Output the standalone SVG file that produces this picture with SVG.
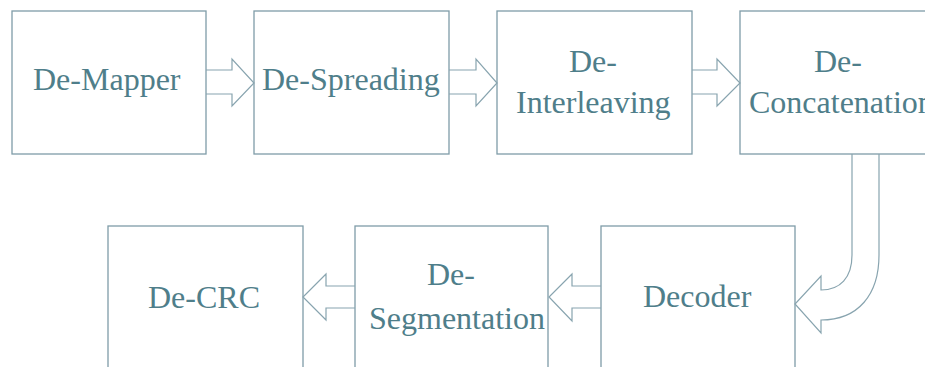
<svg xmlns="http://www.w3.org/2000/svg" width="925" height="367" viewBox="0 0 925 367">
  <rect width="925" height="367" fill="#ffffff"/>

  <!-- Processing stages: upper row -->
  <g id="de-mapper">
    <rect x="12" y="11" width="194" height="143" fill="#ffffff" stroke="#7f9ca8" stroke-width="1.3"/>
    <text x="33" y="90" font-size="32" style="font-family: 'Liberation Serif', serif" fill="#4f7e8a">De-Mapper</text>
  </g>
  <g id="de-spreading">
    <rect x="254" y="11" width="195" height="143" fill="#ffffff" stroke="#7f9ca8" stroke-width="1.3"/>
    <text x="262" y="90" font-size="32" style="font-family: 'Liberation Serif', serif" fill="#4f7e8a">De-Spreading</text>
  </g>
  <g id="de-interleaving">
    <rect x="497" y="11" width="195" height="143" fill="#ffffff" stroke="#7f9ca8" stroke-width="1.3"/>
    <text x="569" y="72" font-size="32" style="font-family: 'Liberation Serif', serif" fill="#4f7e8a">De-</text>
    <text x="516" y="113" font-size="32" style="font-family: 'Liberation Serif', serif" fill="#4f7e8a">Interleaving</text>
  </g>
  <g id="de-concatenation">
    <rect x="740" y="11" width="202" height="143" fill="#ffffff" stroke="#7f9ca8" stroke-width="1.3"/>
    <text x="814" y="72" font-size="32" style="font-family: 'Liberation Serif', serif" fill="#4f7e8a">De-</text>
    <text x="749" y="113" font-size="32" style="font-family: 'Liberation Serif', serif" fill="#4f7e8a">Concatenation</text>
  </g>

  <!-- Processing stages: lower row -->
  <g id="decoder">
    <rect x="601" y="226" width="194" height="160" fill="#ffffff" stroke="#7f9ca8" stroke-width="1.3"/>
    <text x="643" y="307" font-size="32" style="font-family: 'Liberation Serif', serif" fill="#4f7e8a">Decoder</text>
  </g>
  <g id="de-segmentation">
    <rect x="355" y="226" width="193" height="160" fill="#ffffff" stroke="#7f9ca8" stroke-width="1.3"/>
    <text x="427" y="285" font-size="32" style="font-family: 'Liberation Serif', serif" fill="#4f7e8a">De-</text>
    <text x="369" y="329" font-size="32" style="font-family: 'Liberation Serif', serif" fill="#4f7e8a">Segmentation</text>
  </g>
  <g id="de-crc">
    <rect x="108" y="226" width="195" height="160" fill="#ffffff" stroke="#7f9ca8" stroke-width="1.3"/>
    <text x="148" y="308" font-size="32" style="font-family: 'Liberation Serif', serif" fill="#4f7e8a">De-CRC</text>
  </g>

  <!-- Hollow block arrows between stages -->
  <g id="connectors" fill="none" stroke="#88a4af" stroke-width="1.2" stroke-linejoin="miter">
    <polyline points="206,70 232,70 232,59 254,83 232,106 232,94 206,94"/>
    <polyline points="449,70 476,70 476,59 497,83 476,106 476,94 449,94"/>
    <polyline points="692,70 717,70 717,59 740,83 717,106 717,94 692,94"/>
    <path d="M852,154 V255 C852,278 840,290 821,290 V276 L795,304 L821,333 V320 C858,320 879,295 879,255 V154"/>
    <polyline points="601,286 572,286 572,274 549,297 572,321 572,308 601,308"/>
    <polyline points="355,286 326,286 326,274 303,297 326,320 326,308 355,308"/>
  </g>
</svg>
